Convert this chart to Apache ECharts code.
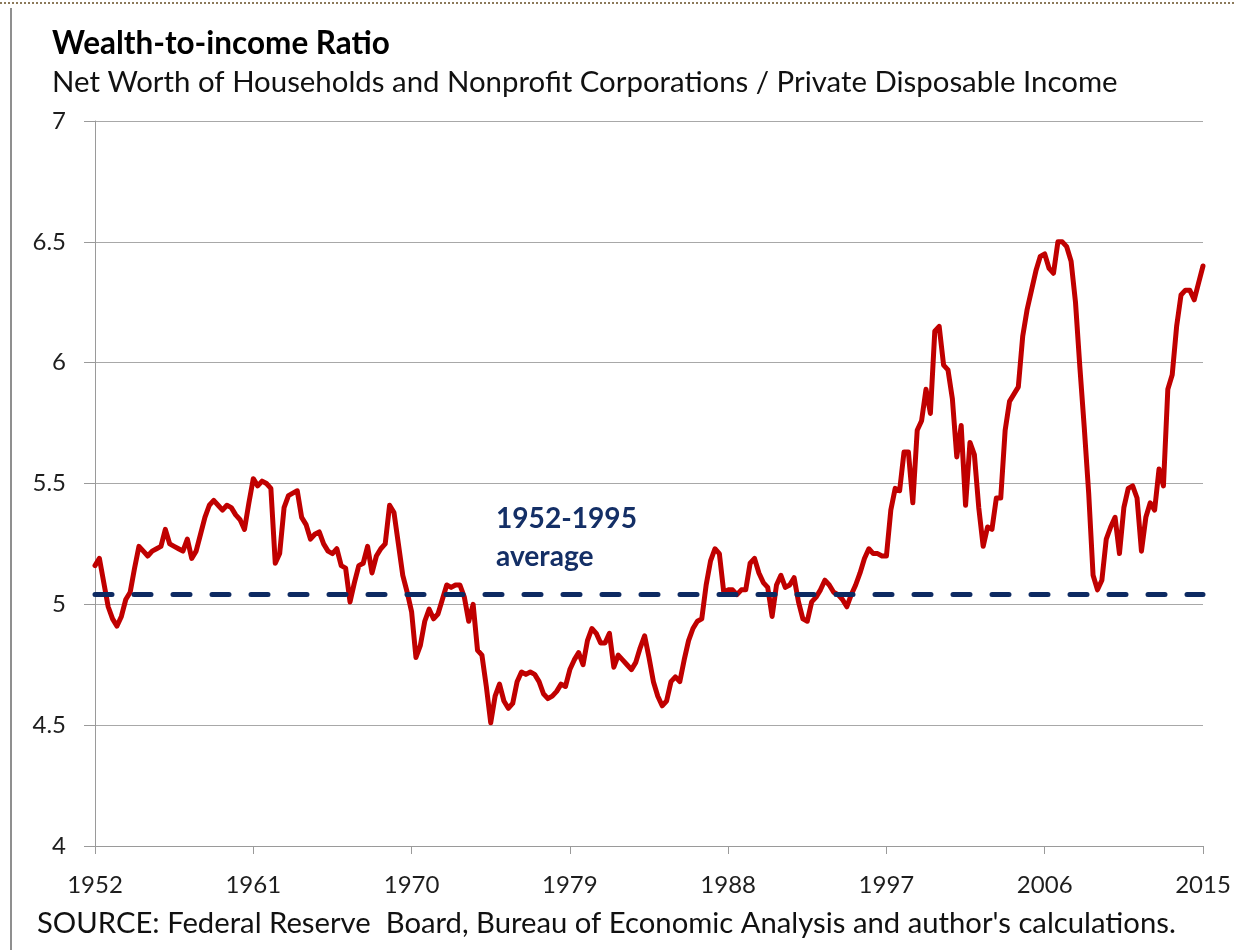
<!DOCTYPE html>
<html><head><meta charset="utf-8">
<script src="https://cdn.jsdelivr.net/npm/echarts@6/dist/echarts.min.js"></script>
<style>html,body{margin:0;padding:0;background:#fff}#c{width:1234px;height:950px}</style>
</head><body><div id="c"></div>
<script>
// ---- data (quarterly, starting 1952Q1) ----
const startYear = 1952;
const values1950s = [5.16,5.19,5.09,4.99, 4.94,4.91,4.95,5.02, 5.05,5.15,5.24,5.22, 5.20,5.22,5.23,5.24,
                     5.31,5.25,5.24,5.23, 5.22,5.27,5.19,5.22, 5.29,5.36,5.41,5.43, 5.41,5.39,5.41,5.40];
const values1960s = [5.37,5.35,5.31,5.42, 5.52,5.49,5.51,5.50, 5.48,5.17,5.21,5.40, 5.45,5.46,5.47,5.36,
                     5.33,5.27,5.29,5.30, 5.25,5.22,5.21,5.23, 5.16,5.15,5.01,5.09, 5.16,5.17,5.24,5.13,
                     5.20,5.23,5.25,5.41, 5.38,5.25,5.12,5.05];
const values1970s = [4.97,4.78,4.83,4.93, 4.98,4.94,4.96,5.02, 5.08,5.07,5.08,5.08, 5.03,4.93,5.00,4.81,
                     4.79,4.66,4.51,4.62, 4.67,4.60,4.57,4.59, 4.68,4.72,4.71,4.72, 4.71,4.68,4.63,4.61,
                     4.62,4.64,4.67,4.66, 4.73,4.77,4.80,4.75];
const values1980s = [4.85,4.90,4.88,4.84, 4.84,4.88,4.74,4.79, 4.77,4.75,4.73,4.76, 4.82,4.87,4.78,4.68,
                     4.62,4.58,4.60,4.68, 4.70,4.68,4.77,4.85, 4.90,4.93,4.94,5.08, 5.18,5.23,5.21,5.05,
                     5.06,5.06,5.04,5.06, 5.06,5.17,5.19,5.13];
const values1990s = [5.09,5.07,4.95,5.08, 5.12,5.07,5.08,5.11, 5.01,4.94,4.93,5.01, 5.03,5.06,5.10,5.08,
                     5.05,5.04,5.02,4.99, 5.04,5.08,5.13,5.19, 5.23,5.21,5.21,5.20, 5.20,5.39,5.48,5.47,
                     5.63,5.63,5.42,5.72, 5.76,5.89,5.79,6.13];
const values2000s = [6.15,5.99,5.97,5.85, 5.61,5.74,5.41,5.67, 5.62,5.40,5.24,5.32, 5.31,5.44,5.44,5.72,
                     5.84,5.87,5.90,6.11, 6.22,6.30,6.38,6.44, 6.45,6.39,6.37,6.50, 6.50,6.48,6.42,6.25,
                     5.98,5.73,5.46,5.12, 5.06,5.10,5.27,5.32];
const values2010s = [5.36,5.21,5.40,5.48, 5.49,5.44,5.22,5.36, 5.42,5.39,5.56,5.49, 5.89,5.95,6.15,6.28,
                     6.30,6.30,6.26,6.33, 6.40];
const averageValue = 5.04;   // 1952-1995 average
const averageLabel = ['1952-1995', 'average'];
const titleText = 'Wealth-to-income Ratio';
const subtitleText = 'Net Worth of Households and Nonprofit Corporations / Private Disposable Income';
const sourceText = "SOURCE: Federal Reserve  Board, Bureau of Economic Analysis and author's calculations.";

const values = [].concat(values1950s, values1960s, values1970s, values1980s, values1990s, values2000s, values2010s);
const categories = values.map((v, i) => (startYear + Math.floor(i / 4)) + 'Q' + (i % 4 + 1));

// ---- fit text widths ----
const FAM = 'Lato';
const mctx = document.createElement('canvas').getContext('2d');
function fitSize(text, weight, target) {
  mctx.font = weight + ' 100px ' + FAM;
  return 100 * target / mctx.measureText(text).width;
}
const titleSize = fitSize(titleText, 'bold', 338);
const subSize = fitSize(subtitleText, 'normal', 1066);
const srcSize = fitSize(sourceText, 'normal', 1139);
const avgSize = fitSize(averageLabel[0], 'bold', 141);

const navy = '#142f66';
const chart = echarts.init(document.getElementById('c'), null, {renderer: 'canvas'});
chart.setOption({
  animation: false,
  backgroundColor: '#fff',
  grid: {left: 95, right: 31, top: 121, bottom: 104, containLabel: false},
  xAxis: {
    type: 'category', data: categories, boundaryGap: false,
    axisLine: {show: true, lineStyle: {color: '#9a9a9a', width: 1}},
    axisTick: {show: true, interval: 35, length: 8, lineStyle: {color: '#9a9a9a'}},
    axisLabel: {interval: 35, margin: 27, color: '#1e1e1e', fontFamily: FAM, fontSize: 24,
      formatter: v => v.slice(0, 4)},
    splitLine: {show: false}
  },
  yAxis: {
    type: 'value', min: 4, max: 7, interval: 0.5,
    axisLine: {show: true, lineStyle: {color: '#9a9a9a', width: 1}},
    axisTick: {show: true, length: 11, lineStyle: {color: '#9a9a9a'}},
    axisLabel: {margin: 29, color: '#1e1e1e', fontFamily: FAM, fontSize: 24},
    splitLine: {show: true, lineStyle: {color: '#a8a8a8', width: 1}}
  },
  series: [{
    type: 'line', data: values, symbol: 'none', smooth: false,
    lineStyle: {color: '#c00000', width: 5, join: 'round', cap: 'round'},
    markLine: {
      silent: true, symbol: ['none', 'none'], label: {show: false},
      lineStyle: {color: '#0d2a62', width: 5, type: [17, 22], cap: 'round'},
      data: [{yAxis: averageValue}]
    }
  }],
  graphic: [
    {type: 'line', shape: {x1: 0, y1: 3, x2: 1234, y2: 3}, style: {stroke: '#8c7a5b', lineWidth: 2, lineDash: [2, 2]}},
    {type: 'line', shape: {x1: 11, y1: 8, x2: 11, y2: 950}, style: {stroke: '#8f8f8f', lineWidth: 2}},
    {type: 'text', x: 52, y: 44, style: {text: titleText, font: 'bold ' + titleSize.toFixed(2) + 'px ' + FAM, fill: '#000', align: 'left', verticalAlign: 'middle'}},
    {type: 'text', x: 52, y: 83, style: {text: subtitleText, font: 'normal ' + subSize.toFixed(2) + 'px ' + FAM, fill: '#111', align: 'left', verticalAlign: 'middle'}},
    {type: 'text', x: 37, y: 924, style: {text: sourceText, font: 'normal ' + srcSize.toFixed(2) + 'px ' + FAM, fill: '#111', align: 'left', verticalAlign: 'middle'}},
    {type: 'text', x: 496, y: 519, style: {text: averageLabel[0], font: 'bold ' + avgSize.toFixed(2) + 'px ' + FAM, fill: navy, align: 'left', verticalAlign: 'middle'}},
    {type: 'text', x: 496, y: 557, style: {text: averageLabel[1], font: 'bold ' + avgSize.toFixed(2) + 'px ' + FAM, fill: navy, align: 'left', verticalAlign: 'middle'}}
  ]
});
</script>
</body></html>
